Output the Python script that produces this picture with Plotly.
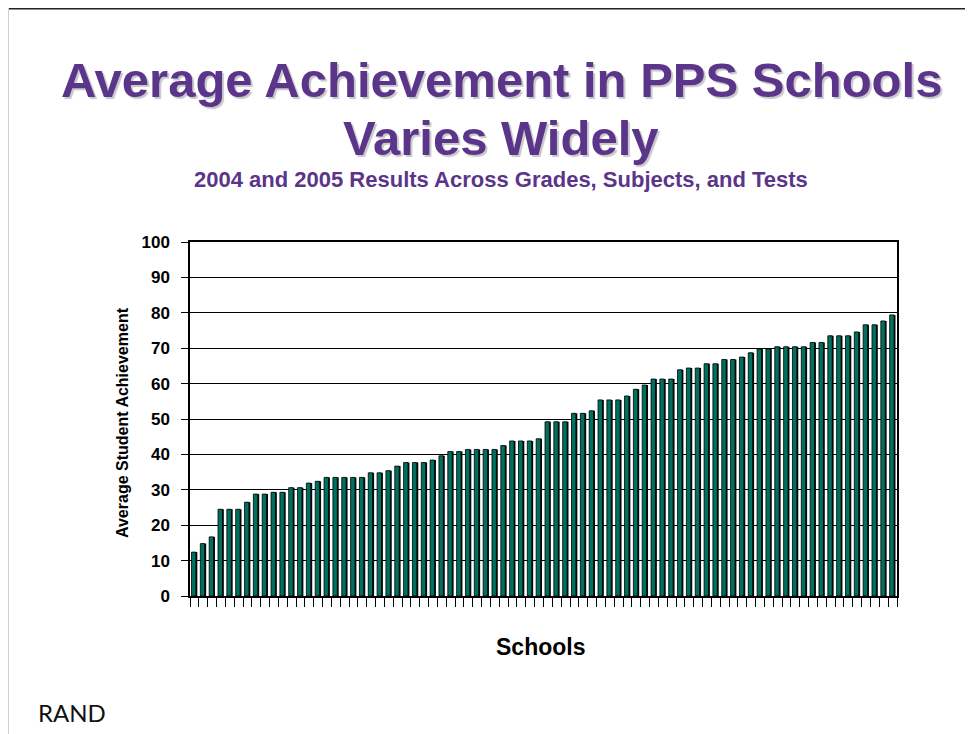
import plotly.graph_objects as go

schools = list(range(1, 81))
achievement = [
    12.4, 14.8, 16.7, 24.5, 24.5, 24.5, 26.5, 28.8, 28.8, 29.3,
    29.3, 30.6, 30.6, 31.9, 32.4, 33.5, 33.5, 33.5, 33.5, 33.5,
    34.8, 34.8, 35.4, 36.7, 37.7, 37.7, 37.7, 38.4, 39.6, 40.8,
    40.8, 41.4, 41.4, 41.4, 41.4, 42.5, 43.8, 43.8, 43.8, 44.4,
    49.2, 49.2, 49.2, 51.6, 51.6, 52.3, 55.4, 55.4, 55.4, 56.5,
    58.4, 59.6, 61.3, 61.3, 61.3, 63.9, 64.4, 64.4, 65.6, 65.6,
    66.8, 66.8, 67.5, 68.7, 69.8, 69.8, 70.4, 70.4, 70.4, 70.4,
    71.6, 71.6, 73.5, 73.5, 73.5, 74.6, 76.6, 76.6, 77.7, 79.4,
    79.4,
][:80]
y_ticks = [0, 10, 20, 30, 40, 50, 60, 70, 80, 90, 100]

purple = "#5B3589"
teal = "#00705F"

fig = go.Figure()
# dark side of each bar (3-D look)
fig.add_trace(go.Bar(x=schools, y=achievement, width=0.5, offset=-0.17,
                     marker=dict(color="#0a0a0a", line=dict(width=0)),
                     hoverinfo="skip", showlegend=False))
fig.add_trace(go.Bar(x=schools, y=achievement, width=0.5, offset=-0.33,
                     marker=dict(color=teal, line=dict(color="#000000", width=0.8)),
                     showlegend=False))

W, H = 973, 734
OFF = 8  # page offset of the figure in the browser
L, T = 190 - OFF, 242 - OFF
R = W - (897 - OFF)
B = H - (596 - OFF)
pw, ph = W - L - R, H - T - B

def px(x):
    return (x - OFF - L) / pw

def py(y):
    return (H - B - (y - OFF)) / ph

FONT = "Liberation Sans, Arial"
ann = []
for txt, yy, size in [("Average Achievement in PPS Schools", 80, 49),
                      ("Varies Widely", 138, 49)]:
    ann.append(dict(text="<b>%s</b>" % txt, x=px(501), y=py(yy), xref="paper", yref="paper",
                    xanchor="center", yanchor="middle",
                    showarrow=False,
                    font=dict(family=FONT, size=size, color=purple,
                              shadow="2px 2px 1px #c8c8c8")))
ann.append(dict(text="<b>2004 and 2005 Results Across Grades, Subjects, and Tests</b>",
                x=px(501), y=py(180), xref="paper", yref="paper", showarrow=False,
                xanchor="center", yanchor="middle",
                font=dict(family=FONT, size=22, color=purple)))
ann.append(dict(text="<b>Average Student Achievement</b>", x=px(122), y=py(423),
                xref="paper", yref="paper", showarrow=False, textangle=-90,
                xanchor="center", yanchor="middle",
                font=dict(family=FONT, size=16, color="#000000")))
ann.append(dict(text="<b>Schools</b>", x=px(540), y=py(647), xref="paper", yref="paper",
                showarrow=False, xanchor="center", yanchor="middle",
                font=dict(family=FONT, size=23, color="#000000")))
ann.append(dict(text="RAND", x=px(36), y=py(712), xref="paper", yref="paper",
                xanchor="left", yanchor="middle", showarrow=False,
                font=dict(family="Lato, Liberation Sans", size=24, color="#111111")))

shapes = [
    dict(type="line", xref="paper", yref="paper", x0=px(OFF), x1=px(973 + OFF),
         y0=py(OFF + 0.7), y1=py(OFF + 0.7),
         line=dict(color="#222222", width=1.5)),
    dict(type="line", xref="paper", yref="paper", x0=px(OFF + 0.5), x1=px(OFF + 0.5),
         y0=py(OFF), y1=py(734 + OFF),
         line=dict(color="#d0d0d0", width=1)),
]

fig.update_layout(
    width=W, height=H,
    margin=dict(l=L, r=R, t=T, b=B),
    paper_bgcolor="white", plot_bgcolor="white",
    barmode="overlay",
    annotations=ann, shapes=shapes,
    xaxis=dict(range=[0.5, 80.5], tickvals=[i + 0.5 for i in range(0, 81)],
               showticklabels=False, ticks="outside", ticklen=9, tickcolor="#000000",
               tickwidth=1, showgrid=False, showline=True, linecolor="#000000",
               linewidth=1.5, mirror=True, zeroline=False),
    yaxis=dict(range=[0, 100], tickvals=y_ticks, ticks="outside", ticklen=7,
               tickcolor="#000000", showgrid=True, gridcolor="#000000", gridwidth=1,
               showline=True, linecolor="#000000", linewidth=1.5, mirror=True,
               zeroline=False, ticklabelstandoff=8,
               tickfont=dict(family=FONT, size=17, color="#000000", weight="bold")),
    font=dict(family=FONT),
)

fig.write_html("out.html")
